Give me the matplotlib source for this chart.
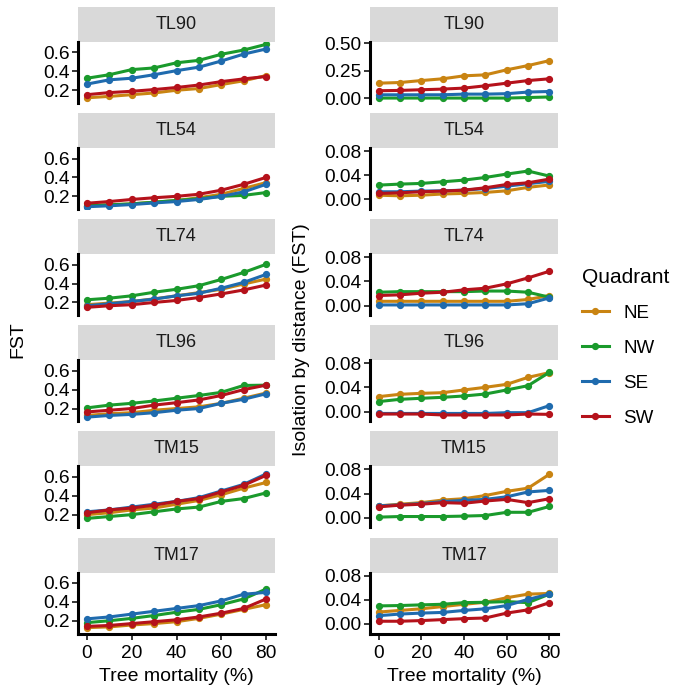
import matplotlib
matplotlib.use("Agg")
import matplotlib.pyplot as plt
from matplotlib.lines import Line2D

plt.rcParams['font.family'] = ['Liberation Sans', 'DejaVu Sans']

mortality = [0, 10, 20, 30, 40, 50, 60, 70, 80]
quadrants = ["NE", "NW", "SE", "SW"]
colors = {"NE": "#C98412", "NW": "#1A9A2C", "SE": "#1F6BAE", "SW": "#B5121B"}
sites = ["TL90", "TL54", "TL74", "TL96", "TM15", "TM17"]

# FST (left column)
fst_TL90 = {
    "NE": [0.12, 0.135, 0.153, 0.171, 0.20, 0.218, 0.26, 0.30, 0.355],
    "NW": [0.327, 0.364, 0.418, 0.436, 0.49, 0.516, 0.58, 0.625, 0.685],
    "SE": [0.265, 0.31, 0.327, 0.364, 0.407, 0.444, 0.509, 0.582, 0.636],
    "SW": [0.153, 0.175, 0.189, 0.207, 0.229, 0.255, 0.291, 0.32, 0.345],
}
fst_TL54 = {
    "NE": [0.10, 0.11, 0.12, 0.138, 0.156, 0.185, 0.222, 0.284, 0.345],
    "NW": [0.10, 0.11, 0.12, 0.138, 0.156, 0.175, 0.20, 0.21, 0.24],
    "SE": [0.09, 0.10, 0.113, 0.13, 0.145, 0.167, 0.20, 0.247, 0.327],
    "SW": [0.127, 0.145, 0.167, 0.185, 0.20, 0.222, 0.265, 0.327, 0.40],
}
fst_TL74 = {
    "NE": [0.176, 0.193, 0.21, 0.238, 0.27, 0.304, 0.339, 0.395, 0.447],
    "NW": [0.228, 0.245, 0.27, 0.308, 0.339, 0.377, 0.443, 0.517, 0.603],
    "SE": [0.165, 0.186, 0.21, 0.235, 0.27, 0.297, 0.35, 0.412, 0.496],
    "SW": [0.148, 0.165, 0.176, 0.20, 0.221, 0.252, 0.29, 0.332, 0.384],
}
fst_TL96 = {
    "NE": [0.127, 0.145, 0.156, 0.182, 0.20, 0.218, 0.255, 0.309, 0.364],
    "NW": [0.207, 0.236, 0.255, 0.28, 0.309, 0.338, 0.371, 0.444, 0.447],
    "SE": [0.109, 0.127, 0.138, 0.156, 0.182, 0.20, 0.255, 0.298, 0.356],
    "SW": [0.164, 0.182, 0.20, 0.236, 0.262, 0.291, 0.338, 0.40, 0.447],
}
fst_TM15 = {
    "NE": [0.20, 0.22, 0.25, 0.27, 0.31, 0.35, 0.41, 0.48, 0.54],
    "NW": [0.16, 0.18, 0.20, 0.23, 0.26, 0.28, 0.34, 0.37, 0.43],
    "SE": [0.23, 0.25, 0.28, 0.31, 0.34, 0.38, 0.45, 0.52, 0.63],
    "SW": [0.22, 0.25, 0.27, 0.30, 0.34, 0.37, 0.44, 0.51, 0.615],
}
fst_TM17 = {
    "NE": [0.127, 0.135, 0.155, 0.17, 0.19, 0.225, 0.27, 0.32, 0.37],
    "NW": [0.18, 0.20, 0.225, 0.255, 0.29, 0.32, 0.37, 0.43, 0.535],
    "SE": [0.22, 0.24, 0.27, 0.30, 0.33, 0.36, 0.41, 0.48, 0.50],
    "SW": [0.14, 0.15, 0.17, 0.19, 0.21, 0.24, 0.28, 0.33, 0.43],
}

# Isolation by distance (right column)
ibd_TL90 = {
    "NE": [0.136, 0.142, 0.16, 0.176, 0.203, 0.212, 0.258, 0.297, 0.342],
    "NW": [0.0, 0.0, 0.0, 0.0, 0.0, 0.0, 0.0, 0.005, 0.01],
    "SE": [0.03, 0.03, 0.03, 0.03, 0.036, 0.036, 0.04, 0.055, 0.06],
    "SW": [0.067, 0.07, 0.076, 0.082, 0.091, 0.112, 0.136, 0.16, 0.176],
}
ibd_TL54 = {
    "NE": [0.007, 0.006, 0.007, 0.009, 0.010, 0.0116, 0.0143, 0.020, 0.024],
    "NW": [0.0237, 0.0254, 0.0265, 0.0292, 0.032, 0.0364, 0.042, 0.047, 0.0386],
    "SE": [0.0127, 0.0127, 0.0138, 0.0143, 0.0154, 0.018, 0.022, 0.026, 0.030],
    "SW": [0.0099, 0.011, 0.0127, 0.0138, 0.0154, 0.0193, 0.0248, 0.0276, 0.0337],
}
ibd_TL74 = {
    "NE": [0.007, 0.007, 0.007, 0.007, 0.007, 0.007, 0.007, 0.010, 0.0166],
    "NW": [0.022, 0.023, 0.023, 0.023, 0.023, 0.024, 0.024, 0.022, 0.0138],
    "SE": [0.001, 0.001, 0.001, 0.001, 0.001, 0.001, 0.001, 0.003, 0.0127],
    "SW": [0.0166, 0.0177, 0.0204, 0.022, 0.026, 0.0287, 0.0359, 0.0458, 0.0568],
}
ibd_TL96 = {
    "NE": [0.0248, 0.0287, 0.0303, 0.0314, 0.0359, 0.0403, 0.0452, 0.0568, 0.0646],
    "NW": [0.0166, 0.0204, 0.0221, 0.0237, 0.0259, 0.0292, 0.0359, 0.043, 0.0651],
    "SE": [-0.003, -0.003, -0.003, -0.003, -0.003, -0.003, -0.0017, -0.0017, 0.010],
    "SW": [-0.004, -0.004, -0.004, -0.0055, -0.0055, -0.0055, -0.0055, -0.004, -0.0045],
}
ibd_TM15 = {
    "NE": [0.0197, 0.0224, 0.025, 0.0293, 0.0315, 0.0368, 0.0437, 0.049, 0.072],
    "NW": [0.001, 0.002, 0.002, 0.002, 0.0027, 0.0037, 0.009, 0.009, 0.0187],
    "SE": [0.0197, 0.0213, 0.0235, 0.0267, 0.0288, 0.0304, 0.0347, 0.0427, 0.0453],
    "SW": [0.018, 0.0208, 0.0224, 0.025, 0.024, 0.0277, 0.0304, 0.025, 0.0315],
}
ibd_TM17 = {
    "NE": [0.0195, 0.0222, 0.0249, 0.0286, 0.0324, 0.0357, 0.0432, 0.0492, 0.0503],
    "NW": [0.0297, 0.0303, 0.0314, 0.0324, 0.0351, 0.0357, 0.0368, 0.0351, 0.0492],
    "SE": [0.0135, 0.0162, 0.0178, 0.0189, 0.0222, 0.0249, 0.0303, 0.0405, 0.0492],
    "SW": [0.0043, 0.0043, 0.0054, 0.007, 0.0086, 0.0097, 0.0178, 0.0232, 0.0351],
}

fst_data = [fst_TL90, fst_TL54, fst_TL74, fst_TL96, fst_TM15, fst_TM17]
ibd_data = [ibd_TL90, ibd_TL54, ibd_TL74, ibd_TL96, ibd_TM15, ibd_TM17]

W, H = 683, 689
fig = plt.figure(figsize=(W / 100, H / 100), dpi=100)

def rect(x0, y0, x1, y1):
    return [x0 / W, 1 - y1 / H, (x1 - x0) / W, (y1 - y0) / H]

period = 106.1
cols = [(78, 275), (370, 558)]
TICK_FS = 13.8

def style_axis(ax, bottom):
    for s in ["top", "right"]:
        ax.spines[s].set_visible(False)
    ax.spines["left"].set_linewidth(2.2)
    ax.spines["left"].set_color("black")
    if bottom:
        ax.spines["bottom"].set_linewidth(2.2)
        ax.spines["bottom"].set_color("black")
        ax.tick_params(axis="x", length=4, width=1.1, colors="black",
                       labelsize=TICK_FS, pad=4.5, labelcolor="black")
        ax.set_xticks([0, 20, 40, 60, 80])
        ax.set_xlabel("Tree mortality (%)", fontsize=14, labelpad=4)
    else:
        ax.spines["bottom"].set_visible(False)
        ax.set_xticks([])
    ax.tick_params(axis="y", length=4, width=1.1, colors="black",
                   labelsize=TICK_FS, pad=2, labelcolor="black")
    ax.set_xlim(-4, 84)
    ax.patch.set_alpha(0)

for ci, (x0, x1) in enumerate(cols):
    data = fst_data if ci == 0 else ibd_data
    for ri, site in enumerate(sites):
        top = 42 + period * ri
        bot = 103 + period * ri
        stop = 7 + period * ri
        sax = fig.add_axes(rect(x0, stop, x1, top))
        sax.set_facecolor("#D9D9D9")
        sax.set_xticks([]); sax.set_yticks([])
        for s in sax.spines.values():
            s.set_visible(False)
        sax.text(0.5, 0.5, site, ha="center", va="center", fontsize=13,
                 color="#1A1A1A", transform=sax.transAxes)
        ax = fig.add_axes(rect(x0, top, x1, bot))
        for q in quadrants:
            ax.plot(mortality, data[ri][q], color=colors[q], lw=2.2,
                    marker="o", ms=4.2, solid_capstyle="round")
        style_axis(ax, ri == len(sites) - 1)
        if ci == 0:
            ax.set_ylim(0.065, 0.71)
            ax.set_yticks([0.2, 0.4, 0.6])
            ax.set_yticklabels(["0.2", "0.4", "0.6"])
        else:
            if ri == 0:
                ax.set_ylim(-0.045, 0.512)
                ax.set_yticks([0.0, 0.25, 0.5])
                ax.set_yticklabels(["0.00", "0.25", "0.50"])
            else:
                ax.set_ylim(-0.016, 0.085)
                ax.set_yticks([0.0, 0.04, 0.08])
                ax.set_yticklabels(["0.00", "0.04", "0.08"])

fig.text(18 / W, 1 - 340 / H, "FST", rotation=90, ha="center", va="center",
         fontsize=14)
fig.text(301 / W, 1 - 340 / H, "Isolation by distance (FST)", rotation=90,
         ha="center", va="center", fontsize=14)

handles = [Line2D([0], [0], color=colors[q], lw=2.2, marker="o", ms=4.2)
           for q in quadrants]
leg = fig.legend(handles, quadrants, title="Quadrant", loc="upper left",
                 bbox_to_anchor=(565 / W, 1 - 251 / H), frameon=False,
                 fontsize=13.5, title_fontsize=15, handlelength=1.45,
                 labelspacing=0.95, handletextpad=0.75)
leg._legend_box.align = "left"

fig.savefig("out.png", dpi=100)
